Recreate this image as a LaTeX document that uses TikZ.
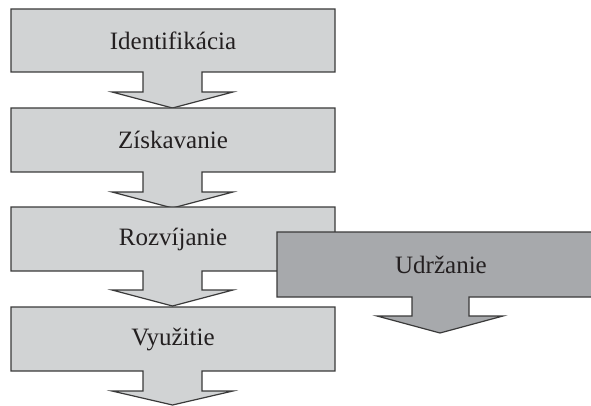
\documentclass[tikz,border=0pt]{standalone}
\usepackage{fontspec}
\setmainfont{Liberation Serif}
\definecolor{lightg}{HTML}{D1D3D4}
\definecolor{darkg}{HTML}{A7A9AC}
\definecolor{edgec}{HTML}{3A3A3A}
\definecolor{textc}{HTML}{231F20}
\tikzset{
  lightblock/.style={fill=lightg, draw=edgec, line width=1.2pt, line join=miter},
  darkblock/.style={fill=darkg, draw=edgec, line width=1.2pt, line join=miter},
  lbl/.style={text=textc, font=\fontsize{25}{29}\selectfont, inner sep=0pt, anchor=center}
}
\newcommand{\arrowblock}[5]{%
  % #1 style, #2 top, #3 box bottom, #4 stem bottom, #5 tip
  \path[#1] (11,#2) -- (335,#2) -- (335,#3) -- (202,#3) -- (202,#4) -- (233,#4)
    -- (172.5,#5) -- (112,#4) -- (143,#4) -- (143,#3) -- (11,#3) -- cycle;
}
\begin{document}
\begin{tikzpicture}[x=1pt,y=-1pt]
\useasboundingbox (0,0) rectangle (591,406);
\clip (0,0) rectangle (591,406);
\arrowblock{lightblock}{9}{72}{92}{108}
\node[lbl] (ident) at (173,41) {Identifikácia};
\arrowblock{lightblock}{108}{172}{192}{208}
\node[lbl] (ziska) at (173,140) {Získavanie};
\arrowblock{lightblock}{207}{271}{290}{306}
\node[lbl] (rozvi) at (173,239) {Rozvíjanie};
\path[darkblock] (277,232) -- (603,232) -- (603,297) -- (469,297) -- (469,316) -- (503,316)
  -- (440,333) -- (377,316) -- (412,316) -- (412,297) -- (277,297) -- cycle;
\node[lbl] (udrz) at (441,264.5) {Udržanie};
\arrowblock{lightblock}{307}{371}{391}{405}
\node[lbl] (vyuz) at (173,339) {Využitie};
\end{tikzpicture}
\end{document}
